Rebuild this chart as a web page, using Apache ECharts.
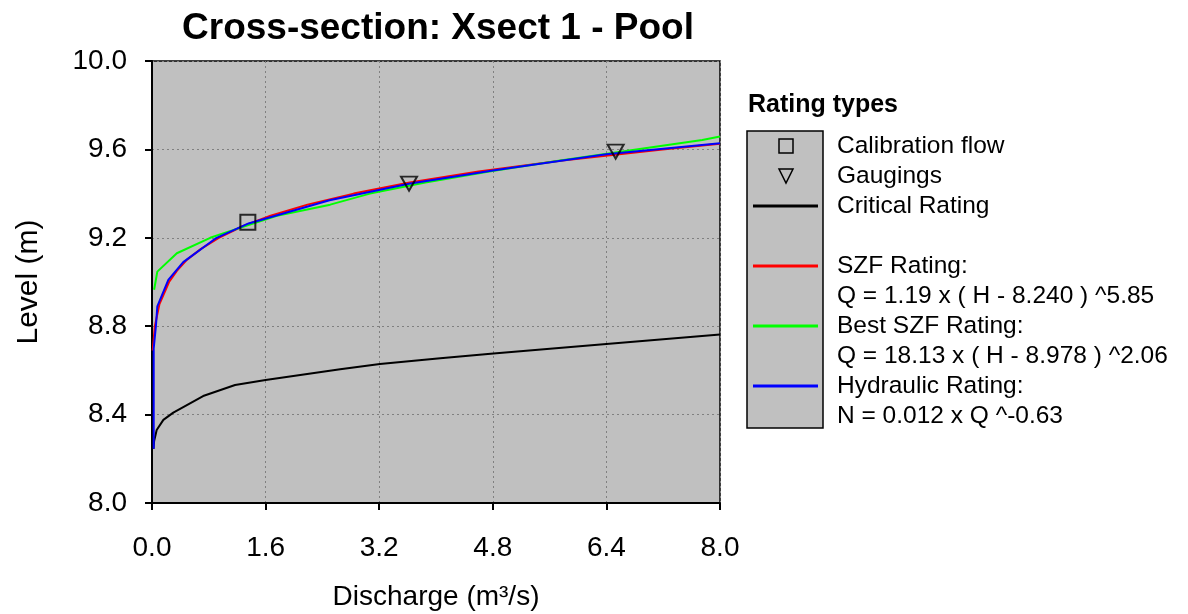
<!DOCTYPE html>
<html>
<head>
<meta charset="utf-8">
<script src="https://cdn.jsdelivr.net/npm/echarts@6/dist/echarts.min.js"></script>
<style>html,body{margin:0;padding:0;background:#fff;}#c{width:1188px;height:614px;}</style>
</head>
<body>
<div id="c"></div>
<script>
// Data: [discharge (m3/s), level (m)]
const calibrationFlow = [[1.35, 9.27]];
const gaugings = [[3.62, 9.445], [6.53, 9.59]];
const criticalRating = [[0.02, 8.245], [0.03, 8.28], [0.066, 8.33], [0.16, 8.376], [0.30, 8.409], [0.72, 8.484], [1.17, 8.534], [1.6, 8.557], [2.65, 8.605], [3.21, 8.629], [4.06, 8.655], [4.81, 8.677], [6.4, 8.719], [8.0, 8.762]];
const szfRating = [[0.01, 8.69], [0.04, 8.80], [0.105, 8.90], [0.24, 9.00], [0.35, 9.05], [0.49, 9.10], [0.69, 9.15], [0.94, 9.20], [1.26, 9.25], [1.67, 9.30], [2.19, 9.35], [2.84, 9.40], [3.63, 9.45], [4.60, 9.50], [5.78, 9.55], [7.19, 9.60], [8.0, 9.626]];
const bestSzfRating = [[0.03, 8.965], [0.075, 9.047], [0.35, 9.13], [0.82, 9.20], [1.0, 9.22], [1.76, 9.30], [2.51, 9.35], [3.07, 9.40], [3.85, 9.45], [4.75, 9.50], [5.75, 9.55], [6.82, 9.60], [7.75, 9.643], [8.0, 9.658]];
const hydraulicRating = [[0.024, 8.245], [0.024, 8.70], [0.055, 8.80], [0.075, 8.89], [0.23, 9.01], [0.44, 9.09], [0.91, 9.20], [1.36, 9.265], [2.5, 9.37], [3.62, 9.445], [4.8, 9.505], [6.4, 9.578], [8.0, 9.628]];

const titleText = 'Cross-section: Xsect 1 - Pool';
const xName = 'Discharge (m\u00b3/s)';
const yName = 'Level (m)';
const legendTitle = 'Rating types';
const legendLabels = ['Calibration flow', 'Gaugings', 'Critical Rating', '', 'SZF Rating:', 'Q = 1.19 x ( H - 8.240 ) ^5.85', 'Best SZF Rating:', 'Q = 18.13 x ( H - 8.978 ) ^2.06', 'Hydraulic Rating:', 'N = 0.012 x Q ^-0.63'];
const xTicks = {min: 0, max: 8, interval: 1.6};
const yTicks = {min: 8.0, max: 10.0, interval: 0.4};

const FONT = '"Liberation Sans", Arial, sans-serif';
const chart = echarts.init(document.getElementById('c'), null, {renderer: 'canvas'});

const lx = 747, ly = 131, lw = 76, lh = 297, rowH = 30, row0 = 146;
const graphics = [
  {type: 'text', x: 748, y: 105, style: {text: legendTitle, font: 'bold 25px ' + FONT, fill: '#000', verticalAlign: 'middle'}},
  {type: 'rect', shape: {x: lx, y: ly, width: lw, height: lh}, style: {fill: '#c0c0c0', stroke: '#000', lineWidth: 1.5}}
];
legendLabels.forEach((t, i) => {
  if (t) graphics.push({type: 'text', x: 837, y: row0 + i * rowH, style: {text: t, font: '24.5px ' + FONT, fill: '#000', verticalAlign: 'middle'}});
});
// legend symbols
graphics.push({type: 'rect', shape: {x: 779, y: row0 - 7, width: 14, height: 14}, style: {fill: 'none', stroke: '#000', lineWidth: 1.5}});
graphics.push({type: 'polygon', shape: {points: [[779, row0 + rowH - 7], [793, row0 + rowH - 7], [786, row0 + rowH + 7]]}, style: {fill: 'none', stroke: '#000', lineWidth: 1.5}});
const legendLines = [[2, '#000000'], [4, '#ff0000'], [6, '#00ff00'], [8, '#0000ff']];
legendLines.forEach(([i, c]) => {
  graphics.push({type: 'line', shape: {x1: 753, y1: row0 + i * rowH, x2: 818, y2: row0 + i * rowH}, style: {stroke: c, lineWidth: 3}});
});

function lineSeries(name, data, color) {
  return {name, type: 'line', data, showSymbol: false, symbol: 'none', smooth: false,
    lineStyle: {color, width: 2}, itemStyle: {color}, z: 3};
}

chart.setOption({
  animation: false,
  backgroundColor: '#ffffff',
  title: {text: titleText, left: 433, top: 5, textAlign: 'center',
    textStyle: {fontFamily: FONT, fontWeight: 'bold', fontSize: 37, color: '#000'}},
  grid: {left: 152, right: 468, top: 61, bottom: 111, show: true, backgroundColor: '#c0c0c0', borderColor: '#000', borderWidth: 1.5,
    containLabel: false, outerBoundsMode: 'none'},
  xAxis: {type: 'value', min: xTicks.min, max: xTicks.max, interval: xTicks.interval,
    name: xName, nameLocation: 'middle', nameGap: 80,
    nameTextStyle: {fontFamily: FONT, fontSize: 28, color: '#000'},
    axisLine: {show: true, lineStyle: {color: '#000', width: 2}},
    axisTick: {show: true, inside: false, length: 7, lineStyle: {color: '#000', width: 2}},
    axisLabel: {fontFamily: FONT, fontSize: 28, color: '#000', margin: 31, formatter: v => v.toFixed(1)},
    splitLine: {show: true, lineStyle: {color: '#808080', type: [2, 3], width: 1}}},
  yAxis: {type: 'value', min: yTicks.min, max: yTicks.max, interval: yTicks.interval,
    name: yName, nameLocation: 'middle', nameGap: 108, nameRotate: 90,
    nameTextStyle: {fontFamily: FONT, fontSize: 30, color: '#000'},
    axisLine: {show: true, lineStyle: {color: '#000', width: 2}},
    axisTick: {show: true, inside: false, length: 7, lineStyle: {color: '#000', width: 2}},
    axisLabel: {fontFamily: FONT, fontSize: 28, color: '#000', margin: 25, formatter: v => v.toFixed(1)},
    splitLine: {show: true, lineStyle: {color: '#808080', type: [2, 3], width: 1}}},
  series: [
    lineSeries('Critical Rating', criticalRating, '#000000'),
    lineSeries('SZF Rating', szfRating, '#ff0000'),
    lineSeries('Best SZF Rating', bestSzfRating, '#00ff00'),
    lineSeries('Hydraulic Rating', hydraulicRating, '#0000ff'),
    {name: 'Calibration flow', type: 'scatter', data: calibrationFlow, symbol: 'rect', symbolSize: 15, z: 5,
      itemStyle: {color: 'rgba(0,0,0,0)', borderColor: '#000', borderWidth: 2}},
    {name: 'Gaugings', type: 'scatter', data: gaugings, symbol: 'triangle', symbolRotate: 180, symbolSize: [16, 14], z: 5,
      itemStyle: {color: 'rgba(0,0,0,0)', borderColor: '#000', borderWidth: 2}}
  ],
  graphic: graphics
});
</script>
</body>
</html>
